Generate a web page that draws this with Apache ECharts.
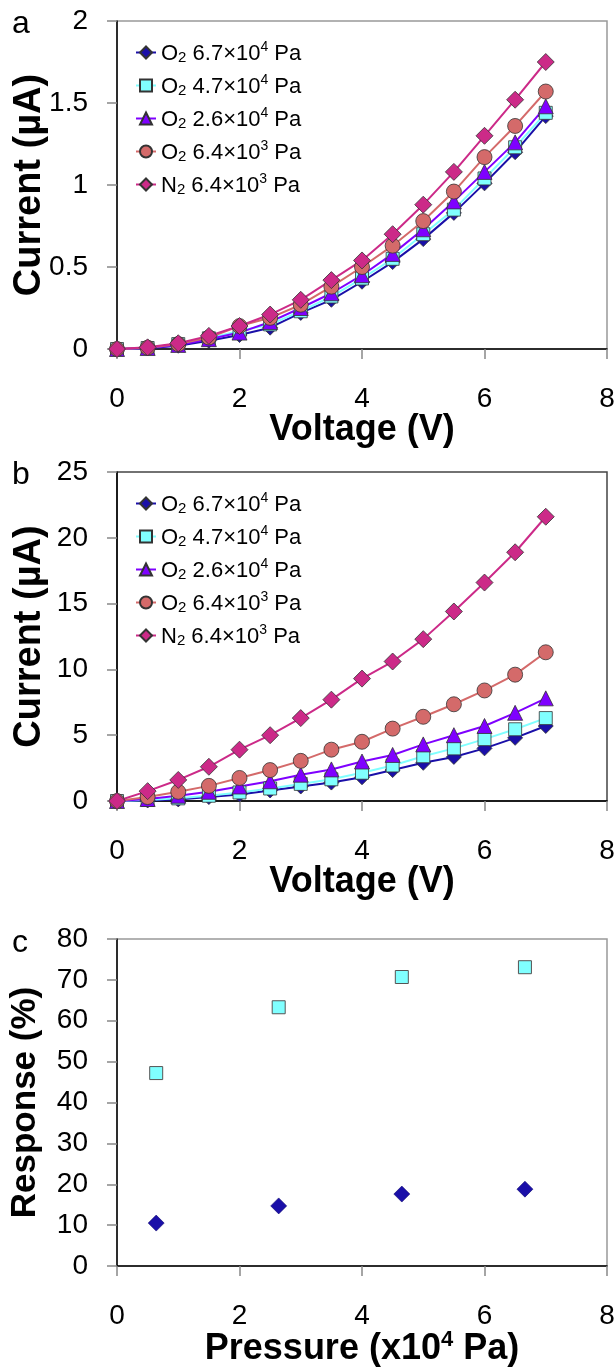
<!DOCTYPE html>
<html>
<head>
<meta charset="utf-8">
<script src="https://cdn.jsdelivr.net/npm/echarts@6/dist/echarts.min.js"></script>
<style>
  html, body { margin: 0; padding: 0; background: #fff; }
  #chart { width: 616px; height: 1367px; }
</style>
</head>
<body>
<div id="chart"></div>
<script>
// voltage steps used by panels a and b
const voltage = [0, 0.5, 1, 1.5, 2, 2.5, 3, 3.5, 4, 4.5, 5, 5.5, 6, 6.5, 7];

// panel a (current, uA)
const aO2_67e4 = [0, 0.005, 0.02, 0.05, 0.085, 0.13, 0.22, 0.30, 0.41, 0.53, 0.67, 0.83, 1.01, 1.20, 1.42];
const aO2_47e4 = [0, 0.006, 0.03, 0.065, 0.11, 0.15, 0.23, 0.32, 0.43, 0.55, 0.70, 0.85, 1.04, 1.23, 1.44];
const aO2_26e4 = [0, 0.006, 0.025, 0.06, 0.10, 0.165, 0.25, 0.34, 0.45, 0.58, 0.73, 0.90, 1.08, 1.26, 1.48];
const aO2_64e3 = [0, 0.008, 0.03, 0.07, 0.14, 0.19, 0.27, 0.38, 0.50, 0.63, 0.78, 0.96, 1.17, 1.36, 1.57];
const aN2_64e3 = [0, 0.01, 0.035, 0.08, 0.14, 0.21, 0.30, 0.42, 0.54, 0.70, 0.88, 1.08, 1.30, 1.52, 1.75];

// panel b (current, uA)
const bO2_67e4 = [0, 0.04, 0.12, 0.3, 0.5, 0.8, 1.1, 1.4, 1.8, 2.35, 2.9, 3.35, 4.0, 4.8, 5.7];
const bO2_47e4 = [0, 0.08, 0.2, 0.4, 0.65, 0.95, 1.3, 1.65, 2.15, 2.7, 3.4, 4.0, 4.7, 5.45, 6.3];
const bO2_26e4 = [0, 0.15, 0.4, 0.7, 1.1, 1.5, 2.0, 2.4, 3.0, 3.5, 4.3, 5.0, 5.7, 6.7, 7.8];
const bO2_64e3 = [0, 0.3, 0.7, 1.15, 1.75, 2.35, 3.05, 3.9, 4.5, 5.5, 6.4, 7.35, 8.4, 9.6, 11.3];
const bN2_64e3 = [0, 0.75, 1.6, 2.6, 3.9, 5.0, 6.3, 7.7, 9.3, 10.6, 12.3, 14.4, 16.6, 18.9, 21.6];

// panel c (response %, vs pressure x10^4 Pa)
const pressure = [0.64, 2.64, 4.65, 6.66];
const respSquare = [47.2, 63.3, 70.7, 73.1];
const respDiamond = [10.5, 14.7, 17.6, 18.8];

// axis ticks
const voltTicks = { min: 0, max: 8, interval: 2 };
const curATicks = { min: 0, max: 2, interval: 0.5 };
const curBTicks = { min: 0, max: 25, interval: 5 };
const respTicks = { min: 0, max: 80, interval: 10 };

const names = ['O2 6.7e4', 'O2 4.7e4', 'O2 2.6e4', 'O2 6.4e3', 'N2 6.4e3'];
const legendText = {
  'O2 6.7e4': '{t|O}{sub|2}{t| 6.7×10}{sup|4}{t| Pa}',
  'O2 4.7e4': '{t|O}{sub|2}{t| 4.7×10}{sup|4}{t| Pa}',
  'O2 2.6e4': '{t|O}{sub|2}{t| 2.6×10}{sup|4}{t| Pa}',
  'O2 6.4e3': '{t|O}{sub|2}{t| 6.4×10}{sup|3}{t| Pa}',
  'N2 6.4e3': '{t|N}{sub|2}{t| 6.4×10}{sup|3}{t| Pa}'
};

const styles = [
  { color: '#1a0fa8', symbol: 'diamond', size: 15 },
  { color: '#80ffff', symbol: 'rect', size: 13 },
  { color: '#7f00ff', symbol: 'triangle', size: 15 },
  { color: '#d46a6a', symbol: 'circle', size: 15 },
  { color: '#cc2a88', symbol: 'diamond', size: 17 }
];

const sans = "'Liberation Sans', Arial, sans-serif";

function pairs(xs, ys) {
  return xs.map((x, i) => [x, ys[i]]);
}

function lineSeries(idx, dataY, gridIdx) {
  const s = styles[idx];
  return {
    name: names[idx],
    type: 'line',
    xAxisIndex: gridIdx,
    yAxisIndex: gridIdx,
    data: pairs(voltage, dataY),
    symbol: s.symbol,
    symbolSize: s.size,
    lineStyle: { color: s.color, width: 2 },
    itemStyle: { color: s.color, borderColor: '#333', borderWidth: 0.8 },
    emphasis: { disabled: true },
    animation: false
  };
}

function xAxis(gridIdx, name) {
  return {
    type: 'value',
    gridIndex: gridIdx,
    min: voltTicks.min, max: voltTicks.max, interval: voltTicks.interval,
    name: name,
    nameLocation: 'middle',
    nameGap: 63,
    nameMoveOverlap: false,
    nameTextStyle: { fontFamily: sans, fontWeight: 'bold', fontSize: 36, color: '#000', rich: {
      t: { fontFamily: sans, fontWeight: 'bold', fontSize: 36, color: '#000', lineHeight: 38, verticalAlign: 'bottom' },
      sup: { fontFamily: sans, fontWeight: 'bold', fontSize: 22, color: '#000', lineHeight: 38, verticalAlign: 'top' }
    } },
    axisLine: { onZero: false, lineStyle: { color: '#000', width: 1.5 } },
    axisTick: { length: 10, lineStyle: { color: '#888', width: 1.5 } },
    axisLabel: { margin: 36, fontFamily: sans, fontSize: 28, color: '#000' },
    splitLine: { show: false }
  };
}

function yAxis(gridIdx, ticks, name, size, gap) {
  return {
    type: 'value',
    gridIndex: gridIdx,
    min: ticks.min, max: ticks.max, interval: ticks.interval,
    name: name,
    nameLocation: 'middle',
    nameGap: gap,
    nameMoveOverlap: false,
    nameTextStyle: { fontFamily: sans, fontWeight: 'bold', fontSize: size, color: '#000' },
    axisLine: { show: true, onZero: false, lineStyle: { color: '#000', width: 1.5 } },
    axisTick: { show: true, length: 10, lineStyle: { color: '#888', width: 1.5 } },
    axisLabel: { margin: 29, fontFamily: sans, fontSize: 28, color: '#000' },
    splitLine: { show: false }
  };
}

function legend(gridTop) {
  return {
    data: names,
    orient: 'vertical',
    left: 130,
    top: gridTop + 14,
    itemWidth: 20,
    itemHeight: 15,
    itemGap: 8,
    selectedMode: false,
    formatter: function (name) { return legendText[name]; },
    textStyle: {
      rich: {
        t: { fontFamily: sans, fontSize: 22, color: '#000', lineHeight: 25, verticalAlign: 'bottom' },
        sub: { fontFamily: sans, fontSize: 15, color: '#000', lineHeight: 25, verticalAlign: 'bottom' },
        sup: { fontFamily: sans, fontSize: 14, color: '#000', lineHeight: 25, verticalAlign: 'top' }
      }
    }
  };
}

const gridA = { left: 117, top: 21, width: 490, height: 328 };
const gridB = { left: 117, top: 472, width: 490, height: 329 };
const gridC = { left: 117, top: 939, width: 490, height: 327 };

const chart = echarts.init(document.getElementById('chart'), null, { renderer: 'canvas' });

const series = [];
[aO2_67e4, aO2_47e4, aO2_26e4, aO2_64e3, aN2_64e3].forEach((d, i) => series.push(lineSeries(i, d, 0)));
[bO2_67e4, bO2_47e4, bO2_26e4, bO2_64e3, bN2_64e3].forEach((d, i) => series.push(lineSeries(i, d, 1)));
series.push({
  type: 'scatter', xAxisIndex: 2, yAxisIndex: 2,
  data: pairs(pressure, respSquare),
  symbol: 'rect', symbolSize: 13,
  itemStyle: { color: '#80ffff', borderColor: '#555', borderWidth: 1, opacity: 1 },
  emphasis: { disabled: true }, animation: false
});
series.push({
  type: 'scatter', xAxisIndex: 2, yAxisIndex: 2,
  data: pairs(pressure, respDiamond),
  symbol: 'diamond', symbolSize: 16,
  itemStyle: { color: '#1a0fa8', borderColor: '#110a70', borderWidth: 0.6, opacity: 1 },
  emphasis: { disabled: true }, animation: false
});

const gridStyle = { show: true, borderColor: '#999', borderWidth: 1.5, backgroundColor: 'transparent', outerBoundsMode: 'none', containLabel: false };

chart.setOption({
  animation: false,
  backgroundColor: '#fff',
  grid: [
    Object.assign({}, gridA, gridStyle),
    Object.assign({}, gridB, gridStyle, { borderColor: '#444' }),
    Object.assign({}, gridC, gridStyle)
  ],
  legend: [legend(gridA.top), legend(gridB.top)],
  xAxis: [
    xAxis(0, 'Voltage (V)'),
    xAxis(1, 'Voltage (V)'),
    xAxis(2, '{t|Pressure (x10}{sup|4}{t| Pa)}')
  ],
  yAxis: [
    yAxis(0, curATicks, 'Current (µA)', 38, 68),
    yAxis(1, curBTicks, 'Current (µA)', 38, 68),
    yAxis(2, respTicks, 'Response (%)', 35, 74)
  ],
  graphic: [
    { type: 'text', left: 12, top: 8, style: { text: 'a', font: '32px ' + sans, fill: '#000' } },
    { type: 'text', left: 12, top: 459, style: { text: 'b', font: '32px ' + sans, fill: '#000' } },
    { type: 'text', left: 12, top: 927, style: { text: 'c', font: '32px ' + sans, fill: '#000' } }
  ],
  series: series
});
</script>
</body>
</html>
